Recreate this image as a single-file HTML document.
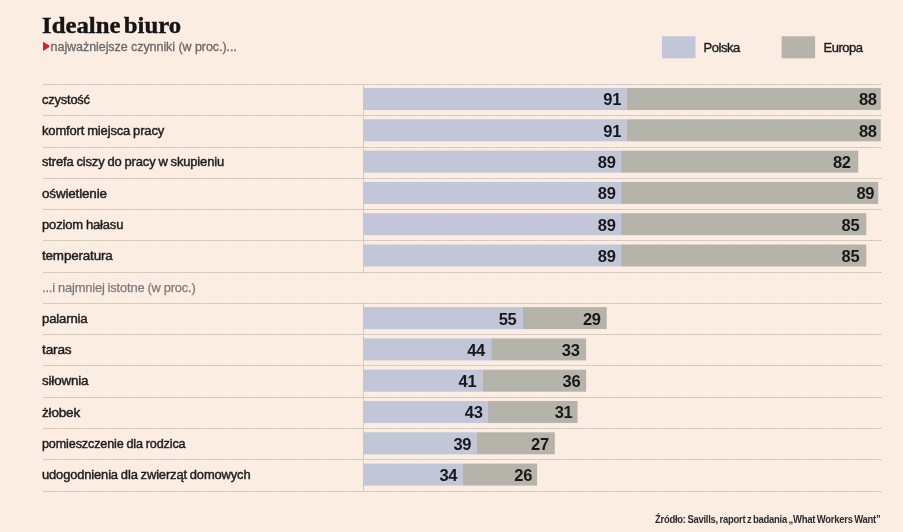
<!DOCTYPE html>
<html><head><meta charset="utf-8"><style>
*{margin:0;padding:0;box-sizing:border-box}
html,body{width:903px;height:532px;overflow:hidden;background:#fbede1}
body{position:relative;will-change:transform;font-family:"Liberation Sans",sans-serif;color:#1e1e1e}
.a{position:absolute;white-space:nowrap}
svg.g{position:absolute;left:0;top:0}
.lb{position:absolute;left:41.5px;transform-origin:0 0;font-size:13px;line-height:16px;letter-spacing:-0.15px;word-spacing:-0.5px;color:#1e1e1e;-webkit-text-stroke:0.45px #1e1e1e;white-space:nowrap}
.nv{position:absolute;font-size:16.5px;font-weight:bold;line-height:18px;letter-spacing:-0.3px;text-align:right;color:#181818;white-space:nowrap}
</style></head><body>
<svg class="g" width="903" height="532" viewBox="0 0 903 532">
<path d="M43 41.8 L49.4 45.5 L49.4 47 L43 50.9Z" fill="#dc2227"/>
<rect x="662" y="36.3" width="33.5" height="22" fill="#c1c7d8"/>
<rect x="781.6" y="36.3" width="33.5" height="22" fill="#b4b4ab"/>

<line x1="43" y1="84.5" x2="881.5" y2="84.5" stroke="#ddd2c7" stroke-width="1"/>
<line x1="43" y1="84.5" x2="881.5" y2="84.5" stroke="#c8bdb2" stroke-width="1" stroke-dasharray="1 2"/>
<line x1="43" y1="115.5" x2="881.5" y2="115.5" stroke="#ddd2c7" stroke-width="1"/>
<line x1="43" y1="115.5" x2="881.5" y2="115.5" stroke="#c8bdb2" stroke-width="1" stroke-dasharray="1 2"/>
<line x1="43" y1="147.5" x2="881.5" y2="147.5" stroke="#ddd2c7" stroke-width="1"/>
<line x1="43" y1="147.5" x2="881.5" y2="147.5" stroke="#c8bdb2" stroke-width="1" stroke-dasharray="1 2"/>
<line x1="43" y1="178.5" x2="881.5" y2="178.5" stroke="#ddd2c7" stroke-width="1"/>
<line x1="43" y1="178.5" x2="881.5" y2="178.5" stroke="#c8bdb2" stroke-width="1" stroke-dasharray="1 2"/>
<line x1="43" y1="209.5" x2="881.5" y2="209.5" stroke="#ddd2c7" stroke-width="1"/>
<line x1="43" y1="209.5" x2="881.5" y2="209.5" stroke="#c8bdb2" stroke-width="1" stroke-dasharray="1 2"/>
<line x1="43" y1="240.5" x2="881.5" y2="240.5" stroke="#ddd2c7" stroke-width="1"/>
<line x1="43" y1="240.5" x2="881.5" y2="240.5" stroke="#c8bdb2" stroke-width="1" stroke-dasharray="1 2"/>
<line x1="43" y1="272.5" x2="881.5" y2="272.5" stroke="#ddd2c7" stroke-width="1"/>
<line x1="43" y1="272.5" x2="881.5" y2="272.5" stroke="#c8bdb2" stroke-width="1" stroke-dasharray="1 2"/>
<line x1="43" y1="303.5" x2="881.5" y2="303.5" stroke="#ddd2c7" stroke-width="1"/>
<line x1="43" y1="303.5" x2="881.5" y2="303.5" stroke="#c8bdb2" stroke-width="1" stroke-dasharray="1 2"/>
<line x1="43" y1="334.5" x2="881.5" y2="334.5" stroke="#ddd2c7" stroke-width="1"/>
<line x1="43" y1="334.5" x2="881.5" y2="334.5" stroke="#c8bdb2" stroke-width="1" stroke-dasharray="1 2"/>
<line x1="43" y1="365.5" x2="881.5" y2="365.5" stroke="#ddd2c7" stroke-width="1"/>
<line x1="43" y1="365.5" x2="881.5" y2="365.5" stroke="#c8bdb2" stroke-width="1" stroke-dasharray="1 2"/>
<line x1="43" y1="397.5" x2="881.5" y2="397.5" stroke="#ddd2c7" stroke-width="1"/>
<line x1="43" y1="397.5" x2="881.5" y2="397.5" stroke="#c8bdb2" stroke-width="1" stroke-dasharray="1 2"/>
<line x1="43" y1="428.5" x2="881.5" y2="428.5" stroke="#ddd2c7" stroke-width="1"/>
<line x1="43" y1="428.5" x2="881.5" y2="428.5" stroke="#c8bdb2" stroke-width="1" stroke-dasharray="1 2"/>
<line x1="43" y1="459.5" x2="881.5" y2="459.5" stroke="#ddd2c7" stroke-width="1"/>
<line x1="43" y1="459.5" x2="881.5" y2="459.5" stroke="#c8bdb2" stroke-width="1" stroke-dasharray="1 2"/>
<line x1="43" y1="491.5" x2="881.5" y2="491.5" stroke="#ddd2c7" stroke-width="1"/>
<line x1="43" y1="491.5" x2="881.5" y2="491.5" stroke="#c8bdb2" stroke-width="1" stroke-dasharray="1 2"/>
<line x1="363.5" y1="84.5" x2="363.5" y2="272.5" stroke="#d6cbc0" stroke-width="1"/>
<line x1="363.5" y1="303.5" x2="363.5" y2="491.5" stroke="#d6cbc0" stroke-width="1"/>
<rect x="363.0" y="88.00" width="263.60" height="22.0" fill="#c1c7d8"/>
<rect x="626.60" y="88.00" width="254.15" height="22.0" fill="#b4b4ab"/>
<rect x="363.0" y="119.30" width="263.60" height="22.0" fill="#c1c7d8"/>
<rect x="626.60" y="119.30" width="254.15" height="22.0" fill="#b4b4ab"/>
<rect x="363.0" y="150.60" width="258.10" height="22.0" fill="#c1c7d8"/>
<rect x="621.10" y="150.60" width="237.10" height="22.0" fill="#b4b4ab"/>
<rect x="363.0" y="181.90" width="258.10" height="22.0" fill="#c1c7d8"/>
<rect x="621.10" y="181.90" width="257.10" height="22.0" fill="#b4b4ab"/>
<rect x="363.0" y="213.20" width="258.10" height="22.0" fill="#c1c7d8"/>
<rect x="621.10" y="213.20" width="245.20" height="22.0" fill="#b4b4ab"/>
<rect x="363.0" y="244.50" width="258.10" height="22.0" fill="#c1c7d8"/>
<rect x="621.10" y="244.50" width="245.20" height="22.0" fill="#b4b4ab"/>
<rect x="363.0" y="307.10" width="160.00" height="22.0" fill="#c1c7d8"/>
<rect x="523.00" y="307.10" width="83.70" height="22.0" fill="#b4b4ab"/>
<rect x="363.0" y="338.40" width="128.30" height="22.0" fill="#c1c7d8"/>
<rect x="491.30" y="338.40" width="94.80" height="22.0" fill="#b4b4ab"/>
<rect x="363.0" y="369.70" width="119.70" height="22.0" fill="#c1c7d8"/>
<rect x="482.70" y="369.70" width="103.40" height="22.0" fill="#b4b4ab"/>
<rect x="363.0" y="401.00" width="124.80" height="22.0" fill="#c1c7d8"/>
<rect x="487.80" y="401.00" width="89.70" height="22.0" fill="#b4b4ab"/>
<rect x="363.0" y="432.30" width="113.70" height="22.0" fill="#c1c7d8"/>
<rect x="476.70" y="432.30" width="78.10" height="22.0" fill="#b4b4ab"/>
<rect x="363.0" y="463.60" width="99.70" height="22.0" fill="#c1c7d8"/>
<rect x="462.70" y="463.60" width="74.40" height="22.0" fill="#b4b4ab"/>
</svg>
<div class="a" style="left:42px;top:12px;font-family:'Liberation Serif',serif;font-weight:bold;font-size:22.5px;line-height:28px;letter-spacing:0px;word-spacing:-2.5px;color:#151515;-webkit-text-stroke:0.4px #151515;transform:scaleX(1.1);transform-origin:0 0">Idealne biuro</div>
<div class="a" style="left:50.6px;top:39px;font-size:12.5px;line-height:16px;letter-spacing:-0.06px;color:#6a6866;-webkit-text-stroke:0.3px #6a6866">najważniejsze czynniki (w proc.)...</div>
<div class="a" style="left:703.5px;top:39.6px;font-size:13px;line-height:16px;letter-spacing:-0.45px;color:#1e1e1e;-webkit-text-stroke:0.4px #1e1e1e">Polska</div>
<div class="a" style="left:823.5px;top:39.6px;font-size:13px;line-height:16px;letter-spacing:-0.5px;color:#1e1e1e;-webkit-text-stroke:0.4px #1e1e1e">Europa</div>
<div class="lb" style="top:91.80px;transform:scaleX(0.9833)">czystość</div>
<div class="nv" style="left:363.0px;top:90.40px;width:258.10px">91</div>
<div class="nv" style="left:626.60px;top:90.40px;width:250.15px">88</div>
<div class="lb" style="top:123.07px;transform:scaleX(0.9984)">komfort miejsca pracy</div>
<div class="nv" style="left:363.0px;top:121.70px;width:258.10px">91</div>
<div class="nv" style="left:626.60px;top:121.70px;width:250.15px">88</div>
<div class="lb" style="top:154.34px;transform:scaleX(0.9967)">strefa ciszy do pracy w skupieniu</div>
<div class="nv" style="left:363.0px;top:153.00px;width:252.60px">89</div>
<div class="nv" style="left:621.10px;top:153.00px;width:229.60px">82</div>
<div class="lb" style="top:185.61px;transform:scaleX(1.0340)">oświetlenie</div>
<div class="nv" style="left:363.0px;top:184.30px;width:252.60px">89</div>
<div class="nv" style="left:621.10px;top:184.30px;width:253.10px">89</div>
<div class="lb" style="top:216.88px;transform:scaleX(0.9987)">poziom hałasu</div>
<div class="nv" style="left:363.0px;top:215.60px;width:252.60px">89</div>
<div class="nv" style="left:621.10px;top:215.60px;width:238.20px">85</div>
<div class="lb" style="top:248.15px;transform:scaleX(1.0310)">temperatura</div>
<div class="nv" style="left:363.0px;top:246.90px;width:252.60px">89</div>
<div class="nv" style="left:621.10px;top:246.90px;width:238.20px">85</div>
<div class="lb" style="top:280.02px;color:#7c7977;-webkit-text-stroke:0.25px #7c7977;transform:scaleX(0.99)">...i najmniej istotne (w proc.)</div>
<div class="lb" style="top:310.69px;transform:scaleX(1.0089)">palarnia</div>
<div class="nv" style="left:363.0px;top:309.50px;width:153.50px">55</div>
<div class="nv" style="left:523.00px;top:309.50px;width:77.70px">29</div>
<div class="lb" style="top:341.96px;transform:scaleX(1.0485)">taras</div>
<div class="nv" style="left:363.0px;top:340.80px;width:122.00px">44</div>
<div class="nv" style="left:491.30px;top:340.80px;width:88.30px">33</div>
<div class="lb" style="top:373.23px;transform:scaleX(1.0290)">siłownia</div>
<div class="nv" style="left:363.0px;top:372.10px;width:113.30px">41</div>
<div class="nv" style="left:482.70px;top:372.10px;width:97.60px">36</div>
<div class="lb" style="top:404.50px;transform:scaleX(1.0363)">żłobek</div>
<div class="nv" style="left:363.0px;top:403.40px;width:119.60px">43</div>
<div class="nv" style="left:487.80px;top:403.40px;width:84.70px">31</div>
<div class="lb" style="top:435.77px;transform:scaleX(0.9709)">pomieszczenie dla rodzica</div>
<div class="nv" style="left:363.0px;top:434.70px;width:108.20px">39</div>
<div class="nv" style="left:476.70px;top:434.70px;width:72.10px">27</div>
<div class="lb" style="top:467.04px;transform:scaleX(0.9952)">udogodnienia dla zwierząt domowych</div>
<div class="nv" style="left:363.0px;top:466.00px;width:94.20px">34</div>
<div class="nv" style="left:462.70px;top:466.00px;width:69.40px">26</div>
<div class="a" style="left:654.5px;top:513.6px;font-size:10.3px;line-height:12px;font-weight:bold;letter-spacing:-0.3px;word-spacing:-0.8px;color:#2c2c2c;transform:scaleX(0.922);transform-origin:0 0">Źródło: Savills, raport z badania „What Workers Want”</div>
</body></html>
